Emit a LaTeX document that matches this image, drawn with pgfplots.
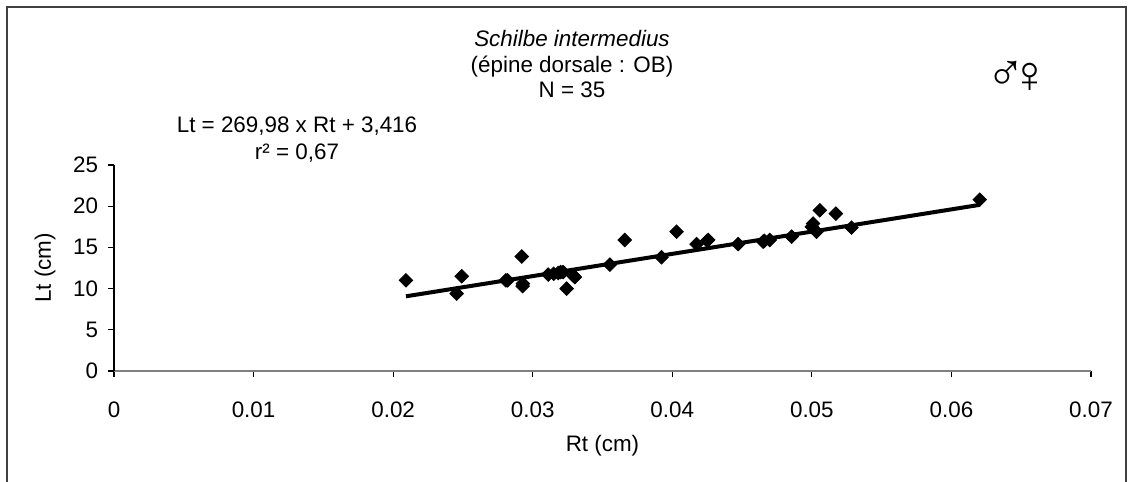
\documentclass[border=0pt]{standalone}
\usepackage{fontspec}
\setmainfont{Liberation Sans}
\usepackage{pgfplots}
\pgfplotsset{compat=1.18}

\pgfplotstableread{
x y
0.02092 11.0
0.02491 11.5
0.02455 9.4
0.02808 11.0
0.02921 13.9
0.02928 10.3
0.02820 11.0
0.02930 10.6
0.03111 11.7
0.03183 11.9
0.03218 12.0
0.03200 12.0
0.03150 11.8
0.03243 10.0
0.03302 11.4
0.03290 11.6
0.03553 12.9
0.03660 15.9
0.03923 13.8
0.04031 16.9
0.04174 15.4
0.04257 15.9
0.04250 15.8
0.04472 15.4
0.04651 15.7
0.04660 15.8
0.04699 15.9
0.04855 16.3
0.05009 17.9
0.05000 17.5
0.05034 16.9
0.05057 19.5
0.05172 19.1
0.05284 17.4
0.06203 20.8
}\ptsdata

\begin{document}
\fontsize{11.2}{13}\selectfont
\begin{tikzpicture}
% page frame (open at the bottom)
\path[use as bounding box] (0,0) rectangle (566pt,241pt);
\draw[black!75, line width=0.9pt] (3.5pt,0) -- (3.5pt,237.5pt) -- (563pt,237.5pt) -- (563pt,0);

\begin{axis}[
    at={(57pt,55.5pt)}, anchor=south west,
    scale only axis,
    width=488.5pt, height=103pt,
    xmin=0, xmax=0.07, ymin=0, ymax=25,
    xtick={0,0.01,...,0.07}, ytick={0,5,...,25},
    scaled x ticks=false,
    axis x line*=bottom, axis y line*=left,
    x axis line style={black!50, line width=0.8pt},
    y axis line style={black, line width=0.6pt},
    tick style={black, line width=0.6pt},
    tick align=outside, major tick length=3pt,
    /pgf/number format/.cd, fixed, precision=2, assume math mode=true,
    /pgfplots/.cd,
    xticklabel style={anchor=base, yshift=-20.5pt},
    yticklabel style={anchor=east, xshift=-1pt},
    xlabel={Rt (cm)}, ylabel={Lt (cm)},
    xlabel style={at={(axis description cs:0.5,0)}, anchor=base, yshift=-40.5pt},
    ylabel style={at={(axis description cs:0,0.5)}, anchor=center, rotate=0, yshift=34.5pt},
    clip=false,
]
\addplot[only marks, mark=square*, mark size=2.4pt, mark options={rotate=45, fill=black, draw=black}]
    table[x=x, y=y] {\ptsdata};
\addplot[black, line width=2pt] coordinates {(0.02092,9.064) (0.06203,20.163)};
\end{axis}

\node[anchor=base] at (286pt,217.5pt) {\itshape Schilbe intermedius};
\node[anchor=base] at (286pt,204.5pt) {(épine dorsale : OB)};
\node[anchor=base] at (286pt,192pt) {N = 35};
\node[anchor=base] at (148.5pt,174.5pt) {Lt = 269,98 x Rt + 3,416};
\node[anchor=base] at (148.5pt,161pt) {r² = 0,67};
\node[inner sep=0pt] at (503pt,203pt) {\fontsize{26}{28}\selectfont ♂};
\node[inner sep=0pt] at (515pt,202pt) {\fontsize{26}{28}\selectfont ♀};
\end{tikzpicture}
\end{document}
